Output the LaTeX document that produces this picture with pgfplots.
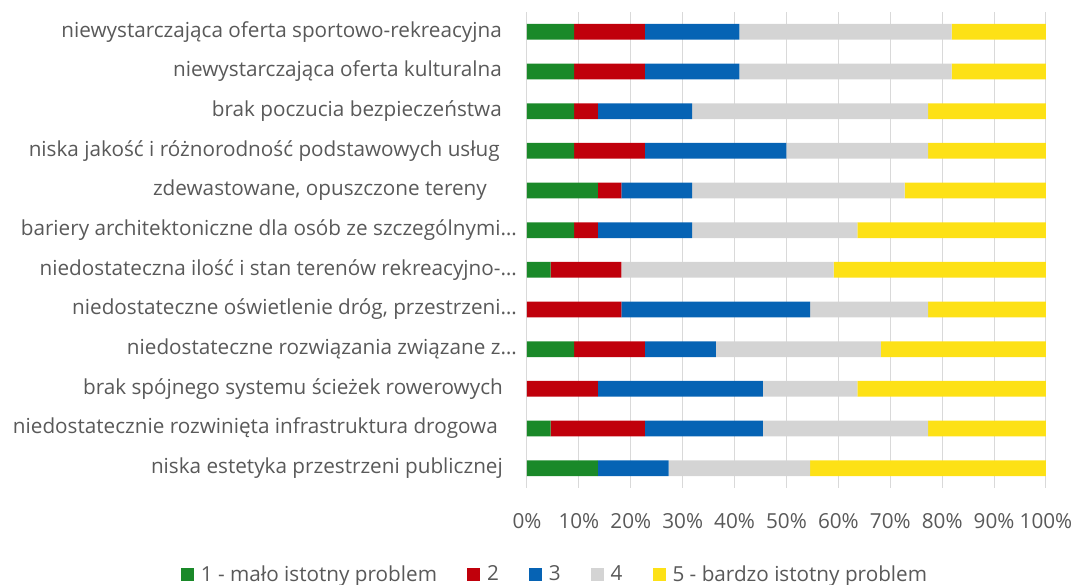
\documentclass[border=0pt]{standalone}
\usepackage{pgfplots}
\pgfplotsset{compat=1.18}
\usepackage{pgfplotstable}
\usepackage{fontspec}
\setmainfont{Open Sans}
\definecolor{cA}{HTML}{1A8929}
\definecolor{cB}{HTML}{C0000B}
\definecolor{cC}{HTML}{0663B4}
\definecolor{cD}{HTML}{D4D4D4}
\definecolor{cE}{HTML}{FDE116}
\definecolor{txtgray}{HTML}{595959}
\definecolor{gridgray}{HTML}{D9D9D9}
\pgfplotstableread{
y a b c d e
1 13.64 0 13.64 27.27 45.45
2 4.55 18.18 22.73 31.82 22.72
3 0 13.64 31.82 18.18 36.36
4 9.09 13.64 13.64 31.82 31.81
5 0 18.18 36.36 22.73 22.73
6 4.55 13.64 0 40.91 40.90
7 9.09 4.55 18.18 31.82 36.36
8 13.64 4.55 13.64 40.91 27.26
9 9.09 13.64 27.27 27.27 22.73
10 9.09 4.55 18.18 45.45 22.73
11 9.09 13.64 18.18 40.91 18.18
12 9.09 13.64 18.18 40.91 18.18
}\data
\newcommand{\fs}{\fontsize{20.7bp}{24bp}\selectfont}
\begin{document}
\begin{tikzpicture}
\begin{axis}[
  scale only axis, width=519bp, height=476bp,
  xbar stacked, bar width=15.7bp,
  xmin=0, xmax=100, ymin=0.5, ymax=12.5,
  xtick={0,10,...,100},
  xticklabels={0\%,10\%,20\%,30\%,40\%,50\%,60\%,70\%,80\%,90\%,100\%},
  ytick={1,...,12},
  yticklabels={
    niska estetyka przestrzeni publicznej\hspace*{14bp},
    niedostatecznie rozwinięta infrastruktura drogowa\hspace*{19bp},
    brak spójnego systemu ścieżek rowerowych\hspace*{14bp},
    niedostateczne rozwiązania związane z…,
    {niedostateczne oświetlenie dróg, przestrzeni…},
    niedostateczna ilość i stan terenów rekreacyjno-…,
    bariery architektoniczne dla osób ze szczególnymi…,
    {zdewastowane, opuszczone tereny\hspace*{30bp}},
    niska jakość i różnorodność podstawowych usług\hspace*{17bp},
    brak poczucia bezpieczeństwa\hspace*{15bp},
    niewystarczająca oferta kulturalna\hspace*{15bp},
    niewystarczająca oferta sportowo-rekreacyjna\hspace*{15bp}},
  xmajorgrids, ymajorgrids=false,
  major grid style={draw=gridgray, line width=1bp},
  axis line style={draw=none},
  major tick length=0pt, tick style={draw=none},
  ticklabel style={font=\fs, text=txtgray},
  yticklabel style={inner sep=0pt, anchor=east, xshift=-10bp},
  xticklabel style={inner sep=0pt, anchor=north, yshift=-25bp},
  legend style={at={(0.052,-0.1807)}, anchor=center, draw=none, fill=none,
    font=\fs, text=txtgray, legend columns=5,
    nodes={inner sep=0pt},
    /tikz/every odd column/.append style={column sep=7bp},
    /tikz/every even column/.append style={column sep=30bp}},
  legsq/.style={legend image code/.code={\fill[#1] (0bp,-6.5bp) rectangle (13bp,6.5bp);}},
]
\addplot[fill=cA, draw=none, legsq=cA] table[x=a, y=y] {\data};
\addplot[fill=cB, draw=none, legsq=cB] table[x=b, y=y] {\data};
\addplot[fill=cC, draw=none, legsq=cC] table[x=c, y=y] {\data};
\addplot[fill=cD, draw=none, legsq=cD] table[x=d, y=y] {\data};
\addplot[fill=cE, draw=none, legsq=cE] table[x=e, y=y] {\data};
\legend{1 - mało istotny problem,2,3,4,5 - bardzo istotny problem}
\end{axis}
\path (-527bp,-96bp) rectangle (548bp,488bp);
\end{tikzpicture}
\end{document}
